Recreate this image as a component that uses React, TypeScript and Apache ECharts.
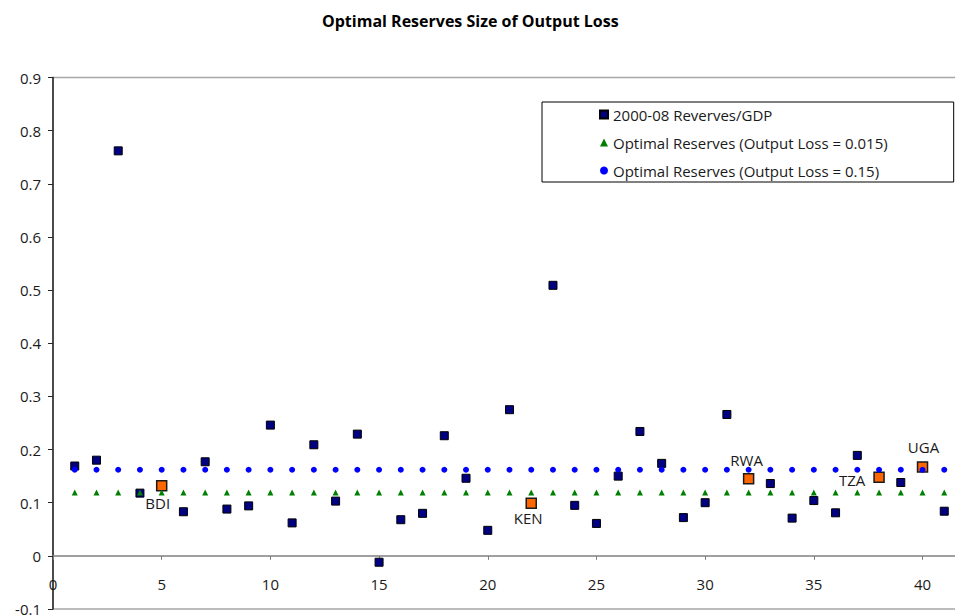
import React, { useEffect, useRef } from "react";
import * as echarts from "echarts";

const titleText = "Optimal Reserves Size of Output Loss";
const seriesNames = [
  "2000-08 Reverves/GDP",
  "Optimal Reserves (Output Loss = 0.015)",
  "Optimal Reserves (Output Loss = 0.15)",
];

const xValues = [
  1, 2, 3, 4, 5, 6, 7, 8, 9, 10, 11, 12, 13, 14, 15, 16, 17, 18, 19, 20, 21,
  22, 23, 24, 25, 26, 27, 28, 29, 30, 31, 32, 33, 34, 35, 36, 37, 38, 39, 40, 41,
];

const reservesGdp = [
  0.169, 0.18, 0.762, 0.118, 0.132, 0.083, 0.177, 0.088, 0.094, 0.246, 0.062,
  0.209, 0.103, 0.229, -0.012, 0.068, 0.08, 0.226, 0.146, 0.048, 0.275, 0.099,
  0.509, 0.095, 0.061, 0.15, 0.234, 0.174, 0.072, 0.1, 0.266, 0.145, 0.136,
  0.071, 0.104, 0.081, 0.189, 0.148, 0.138, 0.167, 0.084,
];

const optimalLow = [
  0.119, 0.119, 0.119, 0.119, 0.119, 0.119, 0.119, 0.119, 0.119, 0.119, 0.119,
  0.119, 0.119, 0.119, 0.119, 0.119, 0.119, 0.119, 0.119, 0.119, 0.119, 0.119,
  0.119, 0.119, 0.119, 0.119, 0.119, 0.119, 0.119, 0.119, 0.119, 0.119, 0.119,
  0.119, 0.119, 0.119, 0.119, 0.119, 0.119, 0.119, 0.119,
];

const optimalHigh = [
  0.162, 0.162, 0.162, 0.162, 0.162, 0.162, 0.162, 0.162, 0.162, 0.162, 0.162,
  0.162, 0.162, 0.162, 0.162, 0.162, 0.162, 0.162, 0.162, 0.162, 0.162, 0.162,
  0.162, 0.162, 0.162, 0.162, 0.162, 0.162, 0.162, 0.162, 0.162, 0.162, 0.162,
  0.162, 0.162, 0.162, 0.162, 0.162, 0.162, 0.162, 0.162,
];

const highlightCodes = ["BDI", "KEN", "RWA", "TZA", "UGA"];
const highlightX = [5, 22, 32, 38, 40];

const xTickLabels = ["0", "5", "10", "15", "20", "25", "30", "35", "40"];

const FONT = "'Open Sans', 'Noto Sans', sans-serif";

const labelPlacement: Record<string, any> = {
  BDI: { position: "bottom", distance: 4, offset: [-4, 0] },
  KEN: { position: "bottom", distance: 2, offset: [-3, 0] },
  RWA: { position: "top", distance: 6, offset: [-2, 0] },
  TZA: { position: "left", distance: 8, offset: [0, 3] },
  UGA: { position: "top", distance: 7, offset: [1, 0] },
};

export default function App() {
  const ref = useRef<HTMLDivElement>(null);

  useEffect(() => {
    if (!ref.current) return;
    const chart = echarts.init(ref.current, null, { renderer: "svg" });

    const pairs = (ys: number[]) => xValues.map((x, i) => [x, ys[i]]);
    const highlightData = highlightCodes.map((code, i) => {
      const x = highlightX[i];
      const y = reservesGdp[xValues.indexOf(x)];
      const p = labelPlacement[code];
      return {
        value: [x, y],
        name: code,
        label: {
          show: true,
          formatter: code,
          position: p.position,
          distance: p.distance,
          offset: p.offset,
        },
      };
    });

    const xCommon = {
      type: "value",
      min: 0,
      max: 42,
      interval: 5,
      splitLine: { show: false },
    };

    chart.setOption({
      animation: false,
      backgroundColor: "#ffffff",
      textStyle: { fontFamily: FONT },
      title: {
        text: titleText,
        left: 317,
        top: 8,
        textStyle: {
          fontFamily: FONT,
          fontSize: 16,
          fontWeight: "bold",
          color: "#000000",
        },
      },
      legend: {
        orient: "vertical",
        left: 542,
        top: 102,
        padding: [5, 66, 4, 57],
        borderColor: "#000000",
        borderWidth: 1,
        itemWidth: 8,
        itemHeight: 8,
        itemGap: 13,
        textStyle: { fontFamily: FONT, fontSize: 15, color: "#1a1a1a" },
        data: [
          { name: seriesNames[0], icon: "rect" },
          { name: seriesNames[1], icon: "triangle" },
          { name: seriesNames[2], icon: "circle" },
        ],
      },
      grid: {
        left: 53,
        right: -11,
        top: 77.5,
        bottom: 6,
        show: true,
        borderColor: "#a6a6a6",
        borderWidth: 1.5,
        containLabel: false,
        outerBoundsMode: "none",
      },
      xAxis: [
        {
          ...xCommon,
          axisLine: {
            show: true,
            onZero: true,
            lineStyle: { color: "#808080", width: 1.5 },
          },
          axisTick: {
            show: true,
            length: 4,
            lineStyle: { color: "#808080", width: 1 },
          },
          axisLabel: { show: false },
        },
        {
          ...xCommon,
          position: "bottom",
          axisLine: { show: false, onZero: false },
          axisTick: { show: false },
          axisLabel: {
            inside: true,
            margin: 18,
            fontFamily: FONT,
            fontSize: 15,
            color: "#1a1a1a",
            formatter: (v: number) =>
              v % 5 === 0 ? xTickLabels[v / 5] ?? "" : "",
          },
        },
      ],
      yAxis: {
        type: "value",
        min: -0.1,
        max: 0.9,
        interval: 0.1,
        axisLine: {
          show: true,
          onZero: false,
          lineStyle: { color: "#262626", width: 1.5 },
        },
        axisTick: {
          show: true,
          length: 5,
          lineStyle: { color: "#262626", width: 1 },
        },
        axisLabel: {
          margin: 12,
          fontFamily: FONT,
          fontSize: 15,
          color: "#1a1a1a",
          formatter: (v: number) => {
            const r = Math.round(v * 10) / 10;
            return r === 0 ? "0" : String(r);
          },
        },
        splitLine: { show: false },
      },
      series: [
        {
          name: seriesNames[0],
          type: "scatter",
          symbol: "rect",
          symbolSize: 8,
          itemStyle: {
            color: "#000080",
            borderColor: "#000000",
            borderWidth: 1,
            opacity: 1,
          },
          data: pairs(reservesGdp),
          z: 2,
        },
        {
          name: "Highlighted",
          type: "scatter",
          symbol: "rect",
          symbolSize: 10,
          itemStyle: {
            color: "#ff6600",
            borderColor: "#1a1a1a",
            borderWidth: 1.5,
            opacity: 1,
          },
          label: {
            fontFamily: FONT,
            fontSize: 15,
            color: "#1a1a1a",
          },
          data: highlightData,
          z: 3,
        },
        {
          name: seriesNames[1],
          type: "scatter",
          symbol: "triangle",
          symbolSize: 6,
          itemStyle: { color: "#008000", opacity: 1 },
          data: pairs(optimalLow),
          z: 4,
        },
        {
          name: seriesNames[2],
          type: "scatter",
          symbol: "circle",
          symbolSize: 6,
          itemStyle: { color: "#0000ff", opacity: 1 },
          data: pairs(optimalHigh),
          z: 5,
        },
      ],
    });

    return () => chart.dispose();
  }, []);

  return (
    <div
      ref={ref}
      style={{
        position: "fixed",
        left: 0,
        top: 0,
        width: 955,
        height: 615,
        background: "#fff",
      }}
    />
  );
}
